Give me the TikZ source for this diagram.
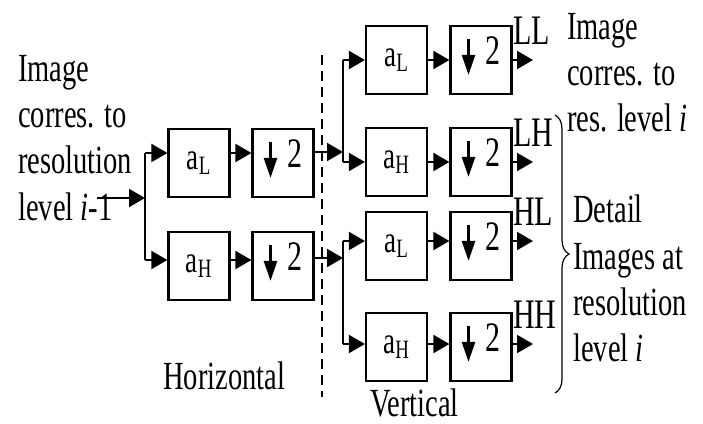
\documentclass[tikz,border=0pt]{standalone}
\usepackage{graphicx}
\usepackage{fontspec}
\setmainfont{Liberation Serif}
\usetikzlibrary{arrows.meta,decorations.pathreplacing}
\newcommand{\tall}[1]{\scalebox{1}[1.4]{#1}}
\newcommand{\dnarrow}{\tikz[baseline=0pt]\draw[line width=2.6pt,-{Triangle[length=20pt,width=13pt]}] (0pt,26pt)--(0pt,-10pt);}
\newcommand{\halve}{\rule[-18pt]{0pt}{1pt}\dnarrow\hspace{10pt}\tall{2}\hspace{10pt}}
\begin{document}
\begin{tikzpicture}[x=1pt,y=-1pt,
  box/.style={draw,line width=2.2pt,minimum width=61pt,minimum height=68pt,inner sep=0pt,font=\fontsize{27}{29}\selectfont},
  dbox/.style={box,font=\fontsize{30}{32}\selectfont},
  arr/.style={line width=2pt,-{Triangle[length=16pt,width=18pt]}},
  txt/.style={anchor=north west,inner sep=0pt,align=left,yscale=1.4,font=\fontsize{28.5}{33}\selectfont}]
\useasboundingbox (0,0) rectangle (703,423);

\node[txt] (src) at (18,55) {Image\\corres. to\\resolution\\level \textit{i}-1};
\node[txt] (res) at (567,13) {Image\\corres. to\\res. level \textit{i}};
\node[txt] (det) at (573,195) {Detail\\Images at\\resolution\\level \textit{i}};
\node[txt] (hor) at (163,362) {Horizontal};
\node[txt] (ver) at (370,389) {Vertical};

\node[box] (hL) at (199,163) {\tall{a\textsubscript{L}}};
\node[dbox] (hdL) at (283,163) {\halve};
\node[box] (hH) at (199,266) {\tall{a\textsubscript{H}}};
\node[dbox] (hdH) at (283,266) {\halve};

\coordinate (in) at (97,198);
\coordinate (f) at (145,198);
\coordinate (fa) at (145,153);
\coordinate (fb) at (145,260);
\draw[arr] (in) -- (f);
\draw[line width=2pt] (fa) -- (fb);
\draw[arr] (fa) -- (hL.west |- fa);
\draw[arr] (hL.east |- fa) -- (hdL.west |- fa);
\draw[arr] (fb) -- (hH.west |- fb);
\draw[arr] (hH.east |- fb) -- (hdH.west |- fb);

\draw[line width=2pt,dash pattern=on 10pt off 6pt] (322,55) -- (322,397);

\coordinate (g1) at (343,152);
\coordinate (g2) at (343,258);
\draw[arr] (hdL.east |- g1) -- (g1);
\draw[arr] (hdH.east |- g2) -- (g2);

\foreach \nm/\ft/\yb/\yl in {LL/L/60/60,LH/H/162/162,HL/L/246/241,HH/H/347/344}{
  \node[box] (v\nm) at (396.5,\yb) {\tall{a\textsubscript{\ft}}};
  \node[dbox] (vd\nm) at (481,\yb) {\halve};
  \coordinate (b\nm) at (343,\yl);
  \coordinate (o\nm) at (533,\yl);
  \draw[arr] (b\nm) -- (v\nm.west |- b\nm);
  \draw[arr] (v\nm.east |- b\nm) -- (vd\nm.west |- b\nm);
  \draw[arr] (vd\nm.east |- b\nm) -- (o\nm);
  \node[txt,anchor=base west,font=\fontsize{30}{33}\selectfont] (l\nm) at (513,\yl-16) {\nm};
}
\draw[line width=2pt] (bLL) -- (bLH);
\draw[line width=2pt] (bHL) -- (bHH);

\draw[decorate,decoration={brace,amplitude=14pt},line width=1.2pt] (555,115) -- (555,393);
\end{tikzpicture}
\end{document}
